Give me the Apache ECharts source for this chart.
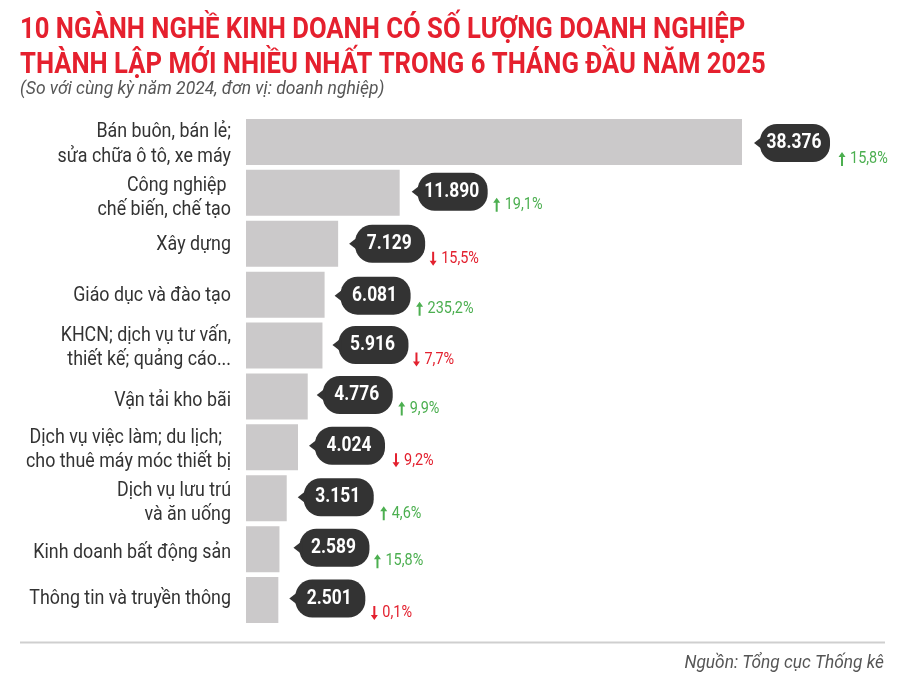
<!DOCTYPE html>
<html>
<head>
<meta charset="utf-8">
<title>Doanh nghiep thanh lap moi</title>
<script src="https://cdn.jsdelivr.net/npm/echarts@6/dist/echarts.min.js"></script>
<style>
html, body { margin: 0; padding: 0; background: #fff; }
#main { width: 900px; height: 678px; }
</style>
</head>
<body>
<div id="main"></div>
<script>
var categories = [
    'Bán buôn, bán lẻ;\nsửa chữa ô tô, xe máy',
    'Công nghiệp \nchế biến, chế tạo',
    'Xây dựng',
    'Giáo dục và đào tạo',
    'KHCN; dịch vụ tư vấn,\nthiết kế; quảng cáo...',
    'Vận tải kho bãi',
    'Dịch vụ việc làm; du lịch;  \ncho thuê máy móc thiết bị',
    'Dịch vụ lưu trú\nvà ăn uống',
    'Kinh doanh bất động sản',
    'Thông tin và truyền thông'
];
var values = [38376, 11890, 7129, 6081, 5916, 4776, 4024, 3151, 2589, 2501];
// % so với cùng kỳ, âm là giảm
var changes = [15.8, 19.1, -15.5, 235.2, -7.7, 9.9, -9.2, 4.6, 15.8, -0.1];

var titleText = '10 NGÀNH NGHỀ KINH DOANH CÓ SỐ LƯỢNG DOANH NGHIỆP\nTHÀNH LẬP MỚI NHIỀU NHẤT TRONG 6 THÁNG ĐẦU NĂM 2025';
var subText = '(So với cùng kỳ năm 2024, đơn vị: doanh nghiệp)';
var sourceText = 'Nguồn: Tổng cục Thống kê';

// bố trí tay: lệch của nhãn hàng, mũi bong bóng (x, y) và ghi chú % (x, y)
var labelDy = [2.5, 5, 1, 1, 2, 4, 2.5, 4.5, 4, -1];
var tipDx = [12, 12, 11, 10, 10, 9, 11, 11, 14, 11];
var tipDy = [1, -1, 0, 1, -0.5, -1.5, -1.5, -1, -1.5, -1.5];
var noteDx = [12, 9, 8, 9, 8, 9, 11, 10, 8, 9];
var noteDy = [17, 12, 15, 14, 14, 12, 13, 15, 12, 13];

// không có font Roboto Condensed nên bóp ngang Roboto bằng scaleX
var FONT = 'Roboto, sans-serif';
var GREEN = '#4caf50', RED = '#e3212f';

function fmtValue(v) {
    return String(v).replace(/\B(?=(\d{3})+$)/g, '.');
}
function fmtChange(v) {
    return Math.abs(v).toFixed(1).replace('.', ',') + '%';
}

function renderNote(params, api) {
    var i = api.value(0);
    var end = api.coord([api.value(1), i]);
    var base = api.coord([0, i]);
    var tipX = end[0] + tipDx[i];
    var midY = end[1] + tipDy[i];
    var pillX = tipX + 6, pillW = 70, pillH = 38;
    var arrowX = pillX + pillW + noteDx[i];
    var noteY = end[1] + noteDy[i];
    var chg = changes[i];
    var color = chg < 0 ? RED : GREEN;
    var dir = chg < 0 ? 1 : -1;
    return {
        type: 'group',
        children: [{
            type: 'text',
            x: base[0] - 15, y: base[1] + labelDy[i],
            scaleX: 0.85,
            style: {
                text: categories[i],
                align: 'right', verticalAlign: 'middle',
                lineHeight: 24.5,
                fill: '#333',
                font: '21px ' + FONT
            }
        }, {
            type: 'rect',
            shape: { x: pillX, y: midY - pillH / 2, width: pillW, height: pillH, r: 17 },
            style: { fill: '#333333' }
        }, {
            type: 'polygon',
            shape: { points: [[tipX, midY], [pillX + 3, midY - 7], [pillX + 3, midY + 7]] },
            style: { fill: '#333333' }
        }, {
            type: 'text',
            x: pillX + pillW / 2 - 1, y: midY,
            scaleX: 0.87,
            style: {
                text: fmtValue(api.value(1)),
                align: 'center', verticalAlign: 'middle',
                fill: '#fff',
                font: 'bold 20px ' + FONT
            }
        }, {
            type: 'polygon',
            shape: { points: [
                [arrowX - 1, noteY - dir * 7],
                [arrowX + 1, noteY - dir * 7],
                [arrowX + 1, noteY + dir * 2],
                [arrowX + 3.5, noteY + dir * 2],
                [arrowX, noteY + dir * 7],
                [arrowX - 3.5, noteY + dir * 2],
                [arrowX - 1, noteY + dir * 2]
            ] },
            style: { fill: color }
        }, {
            type: 'text',
            x: arrowX + 8, y: noteY,
            scaleX: 0.85,
            style: {
                text: fmtChange(chg),
                align: 'left', verticalAlign: 'middle',
                fill: color,
                font: '17px ' + FONT
            }
        }]
    };
}

var myChart = echarts.init(document.getElementById('main'));
myChart.setOption({
    backgroundColor: '#fff',
    animation: false,
    grid: { left: 246, right: 137, top: 116.5, height: 509 },
    xAxis: { type: 'value', min: 0, max: 40000, show: false },
    yAxis: {
        type: 'category',
        inverse: true,
        data: categories,
        axisLine: { show: false },
        axisTick: { show: false },
        axisLabel: { show: false }
    },
    series: [{
        type: 'bar',
        data: values,
        barWidth: 46,
        itemStyle: { color: '#cbc9ca' },
        silent: true
    }, {
        type: 'custom',
        coordinateSystem: 'cartesian2d',
        renderItem: renderNote,
        encode: { x: 1, y: 0 },
        data: values.map(function(v, i) { return [i, v]; }),
        silent: true,
        z: 5
    }],
    graphic: [{
        type: 'text',
        x: 20, y: 13,
        scaleX: 0.885,
        style: {
            text: titleText,
            lineHeight: 35,
            fill: '#e5202e',
            font: 'bold 29px ' + FONT
        }
    }, {
        type: 'text',
        x: 20, y: 80,
        scaleX: 0.92,
        style: { text: subText, fill: '#555', font: 'italic 19px ' + FONT }
    }, {
        type: 'line',
        shape: { x1: 20, y1: 642.5, x2: 885, y2: 642.5 },
        style: { stroke: '#cfcfcf', lineWidth: 2 }
    }, {
        type: 'text',
        x: 884, y: 654,
        scaleX: 0.91,
        style: { text: sourceText, align: 'right', fill: '#555', font: 'italic 19px ' + FONT }
    }]
});
</script>
</body>
</html>
